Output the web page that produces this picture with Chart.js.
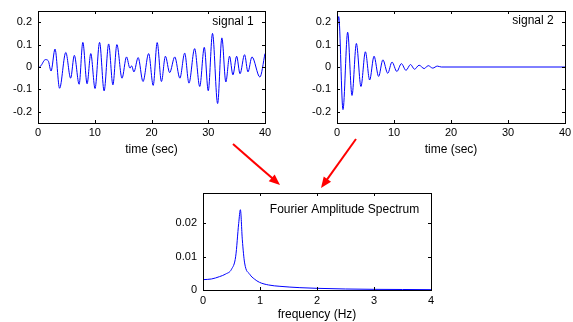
<!DOCTYPE html>
<html>
<head>
<meta charset="utf-8">
<script src="https://cdn.jsdelivr.net/npm/chart.js@4"></script>
<style>
  html, body { margin: 0; padding: 0; background: #fff; }
  #wrap { position: relative; width: 573px; height: 322px; overflow: hidden; }
  canvas, svg { position: absolute; }
</style>
</head>
<body>
<div id="wrap">
  <canvas id="sig1" width="280" height="157" style="left:0;top:0"></canvas>
  <canvas id="sig2" width="287" height="157" style="left:286px;top:0"></canvas>
  <canvas id="fas" width="290" height="157" style="left:160px;top:165px"></canvas>
  <svg id="arrows" width="573" height="322" style="left:0;top:0"></svg>
</div>
<script>
// values (peaks / troughs of each trace)
const sig1Time = [0, 0.5, 1.3, 1.8, 2.3, 3.0, 3.8, 4.9, 5.75, 6.4, 7.25, 7.9, 8.65, 9.3, 10.05,
  10.85, 11.65, 12.45, 13.2, 13.9, 14.8, 15.6, 16.2, 16.5, 16.9, 17.65, 18.5, 19.5, 20.3, 21.0,
  21.75, 22.45, 23.2, 24.1, 25.0, 25.85, 26.6, 27.6, 28.5, 29.3, 30.0, 30.75, 31.65, 32.4, 33.1,
  33.75, 34.35, 35.0, 35.6, 36.4, 37.0, 37.7, 39.1, 40];
const sig1Value = [-0.005, 0.005, 0.033, 0.028, -0.018, 0.08, -0.095, 0.065, -0.05, 0.052, -0.077, 0.11, -0.075, 0.06, -0.096,
  0.11, -0.107, 0.103, -0.08, 0.1, -0.05, 0.045, -0.005, 0.005, -0.022, 0.042, -0.065, 0.06, -0.082, 0.109,
  -0.065, 0.048, -0.025, 0.045, -0.05, 0.062, -0.072, 0.082, -0.087, 0.088, -0.106, 0.15, -0.163, 0.13, -0.067,
  0.048, -0.035, 0.048, -0.03, 0.055, -0.022, 0.045, -0.045, 0.06];

const sig2Time = [0, 0.3, 1.05, 1.87, 2.63, 3.4, 4.2, 4.98, 5.73, 6.5, 7.3, 8.05, 8.9, 9.65, 10.5,
  11.3, 12.1, 12.9, 13.6, 14.4, 15.3, 16.0, 16.8, 17.6, 18.3, 40];
const sig2Value = [0.15, 0.225, -0.19, 0.155, -0.127, 0.105, -0.087, 0.068, -0.058, 0.048, -0.042, 0.032, -0.028, 0.022, -0.02,
  0.015, -0.015, 0.011, -0.01, 0.008, -0.007, 0.006, -0.005, 0.004, 0, 0];

const freqHz = [0, 0.15, 0.29, 0.4, 0.5, 0.574, 0.626, 0.656, 0.69, 0.73, 0.82, 0.9, 0.99, 1.15, 1.35,
  1.7, 2.0, 2.5, 3.0, 3.5, 4.0];
const fourierAmp = [0.0031, 0.0033, 0.0040, 0.0048, 0.0062, 0.0101, 0.0199, 0.0240, 0.0150, 0.0081, 0.0047, 0.0033, 0.0023, 0.0015, 0.0011,
  0.0007, 0.0005, 0.0003, 0.0002, 0.00015, 0.0001];

const timeTicks = [0, 10, 20, 30, 40];
const timeTickLabels = ['0', '10', '20', '30', '40'];
const signalTicks = [-0.2, -0.1, 0, 0.1, 0.2];
const signalTickLabels = ['-0.2', '-0.1', '0', '0.1', '0.2'];
const freqTicks = [0, 1, 2, 3, 4];
const freqTickLabels = ['0', '1', '2', '3', '4'];
const ampTicks = [0, 0.01, 0.02];
const ampTickLabels = ['0', '0.01', '0.02'];

const FONT = "'Liberation Sans', Arial, Helvetica, sans-serif";

// matlab-ish box with inward ticks on all four sides + a text label inside
const matlabAxes = {
  id: 'matlabAxes',
  afterDatasetsDraw(chart, args, opts) {
    const { ctx, chartArea: a, scales: { x, y } } = chart;
    const L = Math.round(a.left), T = Math.round(a.top);
    const R = Math.round(a.right), B = Math.round(a.bottom);
    ctx.save();
    ctx.strokeStyle = '#000';
    ctx.lineWidth = 1;
    ctx.beginPath();
    x.ticks.forEach(t => {
      const px = Math.round(x.getPixelForValue(t.value)) + 0.5;
      ctx.moveTo(px, B); ctx.lineTo(px, B - 3);
      ctx.moveTo(px, T); ctx.lineTo(px, T + 3);
    });
    y.ticks.forEach(t => {
      const py = Math.round(y.getPixelForValue(t.value)) + 0.5;
      ctx.moveTo(L, py); ctx.lineTo(L + 3, py);
      ctx.moveTo(R, py); ctx.lineTo(R - 3, py);
    });
    ctx.stroke();
    ctx.strokeRect(L + 0.5, T + 0.5, R - L, B - T);
    if (opts.label) {
      ctx.fillStyle = '#000';
      ctx.font = '12px ' + FONT;
      ctx.textAlign = 'center';
      ctx.textBaseline = 'alphabetic';
      ctx.fillText(opts.label, a.right + opts.dx, a.top + opts.dy);
    }
    ctx.restore();
  }
};

function fixWidth(w) {
  return s => { s.width = w; s.paddingTop = 0; s.paddingBottom = 0; };
}
function fixHeight(h) {
  return s => { s.height = h; s.paddingLeft = 0; s.paddingRight = 0; };
}

function makeChart(id, xs, ys, o) {
  const pts = xs.map((v, i) => ({ x: v, y: ys[i] }));
  return new Chart(document.getElementById(id), {
    type: 'line',
    data: {
      datasets: [{
        data: pts,
        borderColor: '#0000ff',
        borderWidth: 1,
        pointRadius: 0,
        fill: false,
        cubicInterpolationMode: 'monotone',
      }],
    },
    plugins: [matlabAxes],
    options: {
      responsive: false,
      animation: false,
      events: [],
      layout: { padding: o.pad },
      plugins: {
        legend: { display: false },
        tooltip: { enabled: false },
        matlabAxes: o.note,
      },
      scales: {
        x: {
          type: 'linear',
          min: o.xMin, max: o.xMax,
          grid: { display: false, drawTicks: false },
          border: { display: false },
          afterBuildTicks: s => { s.ticks = o.xTicks.map(v => ({ value: v })); },
          afterFit: fixHeight(o.xH),
          ticks: {
            autoSkip: false, maxRotation: 0, padding: o.xPad,
            color: '#000', font: { family: FONT, size: 11 },
            callback: (v, i) => o.xLabels[i],
          },
          title: {
            display: true, text: o.xTitle, padding: 0, color: '#000',
            font: { family: FONT, size: 12 },
          },
        },
        y: {
          type: 'linear',
          min: o.yMin, max: o.yMax,
          grid: { display: false, drawTicks: false },
          border: { display: false },
          afterBuildTicks: s => { s.ticks = o.yTicks.map(v => ({ value: v })); },
          afterFit: fixWidth(o.yW),
          ticks: {
            autoSkip: false, padding: 6,
            color: '#000', font: { family: FONT, size: 11 },
            callback: (v, i) => o.yLabels[i],
          },
        },
      },
    },
  });
}

makeChart('sig1', sig1Time, sig1Value, {
  pad: { left: 0, top: 11, right: 15, bottom: 0 },
  xMin: 0, xMax: 40, xTicks: timeTicks, xLabels: timeTickLabels, xTitle: 'time (sec)', xH: 34, xPad: 3,
  yMin: -0.25, yMax: 0.25, yTicks: signalTicks, yLabels: signalTickLabels, yW: 38,
  note: { label: 'signal 1', dx: -32, dy: 14 },
});

makeChart('sig2', sig2Time, sig2Value, {
  pad: { left: 0, top: 11, right: 8, bottom: 0 },
  xMin: 0, xMax: 40, xTicks: timeTicks, xLabels: timeTickLabels, xTitle: 'time (sec)', xH: 34, xPad: 3,
  yMin: -0.25, yMax: 0.25, yTicks: signalTicks, yLabels: signalTickLabels, yW: 51,
  note: { label: 'signal 2', dx: -32, dy: 12.5 },
});

makeChart('fas', freqHz, fourierAmp, {
  pad: { left: 0, top: 28, right: 19, bottom: 0 },
  xMin: 0, xMax: 4, xTicks: freqTicks, xLabels: freqTickLabels, xTitle: 'frequency (Hz)', xH: 32, xPad: 4,
  yMin: 0, yMax: 0.029, yTicks: ampTicks, yLabels: ampTickLabels, yW: 43,
  note: { label: 'Fourier Amplitude Spectrum', dx: -86.5, dy: 19.5 },
});

// red arrows from the two signals down to the spectrum
const svg = document.getElementById('arrows');
function arrow(x1, y1, x2, y2) {
  const NS = 'http://www.w3.org/2000/svg';
  const dx = x2 - x1, dy = y2 - y1, len = Math.hypot(dx, dy);
  const ux = dx / len, uy = dy / len;
  const hl = 11, hw = 4.5;
  const bx = x2 - ux * hl, by = y2 - uy * hl;
  const line = document.createElementNS(NS, 'line');
  line.setAttribute('x1', x1); line.setAttribute('y1', y1);
  line.setAttribute('x2', bx + ux * 2); line.setAttribute('y2', by + uy * 2);
  line.setAttribute('stroke', '#ff0000');
  line.setAttribute('stroke-width', 2);
  svg.appendChild(line);
  const head = document.createElementNS(NS, 'polygon');
  head.setAttribute('points', [
    x2 + ',' + y2,
    (bx - uy * hw) + ',' + (by + ux * hw),
    (bx + uy * hw) + ',' + (by - ux * hw),
  ].join(' '));
  head.setAttribute('fill', '#ff0000');
  svg.appendChild(head);
}
arrow(233, 144, 280, 185);
arrow(356, 139, 321, 188);
</script>
</body>
</html>
